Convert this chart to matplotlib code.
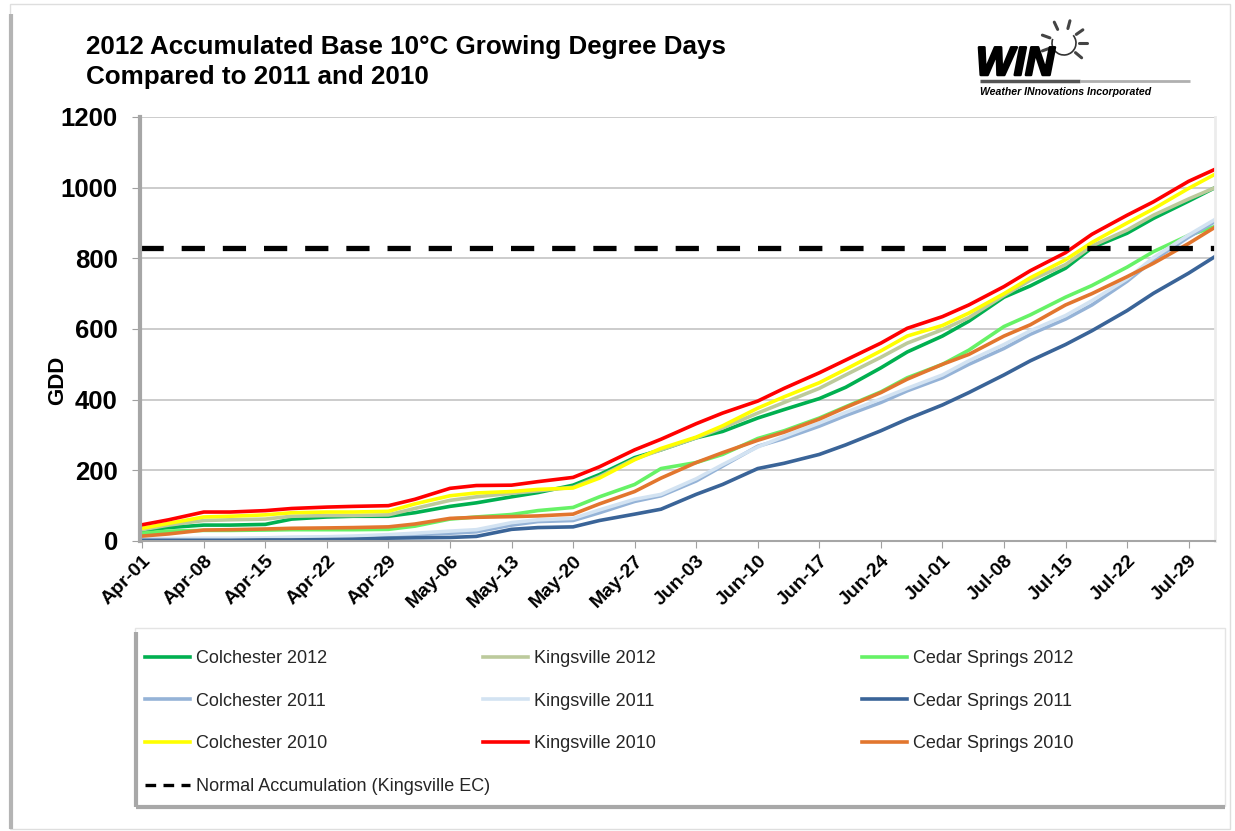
import numpy as np
import matplotlib
matplotlib.use("Agg")
import matplotlib.pyplot as plt
import matplotlib.dates as mdates
import matplotlib.patheffects as pe
from matplotlib.patches import Rectangle, Arc
from matplotlib.lines import Line2D

plt.rcParams['font.family'] = ['Liberation Sans', 'DejaVu Sans']

# days after Apr-01 (2012 season)
days = [0, 3, 7, 10, 14, 17, 21, 24, 28, 31, 35, 38, 42, 45, 49, 52, 56, 59,
        63, 66, 70, 73, 77, 80, 84, 87, 91, 94, 98, 101, 105, 108, 112, 115, 119, 122]

colchester_2012 = [30, 38, 45, 45, 47, 62, 68, 70, 70, 80, 98, 108, 125, 137, 158, 188, 236, 258,
                   292, 310, 348, 372, 403, 435, 490, 535, 580, 622, 690, 722, 772, 830, 871, 913, 962, 1000]
kingsville_2012 = [32, 45, 58, 60, 62, 70, 72, 72, 74, 92, 115, 125, 135, 142, 152, 182, 232, 258,
                   292, 320, 362, 392, 432, 470, 520, 560, 598, 632, 695, 738, 782, 835, 880, 922, 968, 1000]
cedar_springs_2012 = [22, 28, 30, 30, 31, 32, 32, 32, 33, 42, 62, 68, 75, 86, 95, 125, 160, 205,
                      222, 245, 290, 312, 348, 380, 422, 462, 500, 540, 607, 640, 690, 723, 775, 819, 865, 890]
colchester_2011 = [5, 5, 6, 6, 6, 8, 8, 9, 14, 18, 22, 26, 45, 55, 58, 80, 112, 128,
                   170, 212, 268, 290, 325, 355, 392, 425, 462, 500, 545, 585, 628, 668, 735, 795, 860, 904]
kingsville_2011 = [7, 7, 8, 8, 9, 11, 12, 14, 18, 22, 28, 32, 52, 60, 64, 88, 118, 132,
                   176, 216, 266, 296, 334, 364, 402, 432, 470, 510, 556, 595, 638, 680, 742, 802, 866, 910]
cedar_springs_2011 = [2, 2, 2, 2, 3, 3, 4, 5, 8, 9, 10, 13, 33, 38, 40, 58, 76, 90,
                      132, 160, 205, 220, 245, 272, 312, 345, 385, 420, 470, 510, 556, 595, 652, 701, 758, 805]
colchester_2010 = [36, 50, 68, 70, 74, 80, 82, 82, 84, 105, 128, 136, 140, 146, 150, 178, 230, 262,
                   294, 326, 376, 408, 448, 486, 538, 580, 610, 645, 700, 745, 796, 845, 900, 940, 998, 1038]
kingsville_2010 = [46, 60, 82, 82, 86, 92, 96, 98, 100, 118, 149, 157, 158, 168, 180, 210, 258, 288,
                   332, 362, 396, 432, 476, 512, 560, 602, 635, 668, 720, 765, 816, 868, 922, 960, 1018, 1052]
cedar_springs_2010 = [14, 20, 31, 32, 34, 36, 37, 38, 40, 48, 64, 67, 69, 71, 76, 105, 140, 178,
                      222, 250, 285, 308, 345, 378, 420, 458, 500, 528, 580, 612, 668, 700, 748, 786, 842, 888]
normal_gdd = 830

series_names = ["Colchester 2012", "Kingsville 2012", "Cedar Springs 2012",
                "Colchester 2011", "Kingsville 2011", "Cedar Springs 2011",
                "Colchester 2010", "Kingsville 2010", "Cedar Springs 2010"]
series_values = [colchester_2012, kingsville_2012, cedar_springs_2012,
                 colchester_2011, kingsville_2011, cedar_springs_2011,
                 colchester_2010, kingsville_2010, cedar_springs_2010]
series_colors = ["#00b050", "#bcca9c", "#66f266",
                 "#95b3d7", "#d3e3f2", "#3a6498",
                 "#ffff00", "#ff0000", "#e2762e"]
gdd_ticks = [0, 200, 400, 600, 800, 1000, 1200]

start = np.datetime64("2012-04-01")
dates = start + np.array(days).astype("timedelta64[D]")
tick_dates = start + np.arange(0, 120, 7).astype("timedelta64[D]")

W, H = 1235, 831
fig = plt.figure(figsize=(W / 100, H / 100), dpi=100)

# decoration layer in pixel coords
deco = fig.add_axes([0, 0, 1, 1], zorder=-1)
deco.set_xlim(0, W)
deco.set_ylim(H, 0)
deco.axis("off")
deco.add_patch(Rectangle((10, 4), 1220, 825, fc="white", ec="#dedede", lw=1))
deco.plot([11, 11], [14, 829], color="#b4b4b4", lw=3, solid_capstyle="butt")

ax = fig.add_axes([140 / W, 1 - 541 / H, (1215 - 140) / W, (541 - 117) / H])
lines = []
for name, vals, col in zip(series_names, series_values, series_colors):
    ln, = ax.plot(dates, vals, color=col, lw=2.6, label=name, solid_joinstyle="round")
    lines.append(ln)
ax.axhline(normal_gdd, color="black", lw=3.8, dashes=(4.4, 3.4), dash_capstyle="butt")

ax.set_ylim(0, 1200)
ax.set_xlim(start - np.timedelta64(6, "h"), start + np.timedelta64(122, "D"))
ax.set_yticks(gdd_ticks)
ax.set_yticklabels([str(v) for v in gdd_ticks], fontsize=18.5, fontweight="bold")
ax.set_xticks(tick_dates)
ax.xaxis.set_major_formatter(mdates.DateFormatter("%b-%d"))
for lab in ax.get_xticklabels():
    lab.set_rotation(45)
    lab.set_ha("right")
    lab.set_rotation_mode("anchor")
    lab.set_fontsize(14)
    lab.set_fontweight("bold")
ax.tick_params(axis="y", length=6, color="#a0a0a0", pad=10)
ax.tick_params(axis="x", length=5, color="#a0a0a0", pad=3)
ax.grid(axis="y", color="#c8c8c8", lw=1.3)
ax.set_axisbelow(True)
ax.spines["top"].set_visible(False)
ax.spines["right"].set_color("#ececec")
ax.spines["right"].set_linewidth(2)
ax.spines["left"].set_color("#a6a6a6")
ax.spines["left"].set_linewidth(3)
ax.spines["bottom"].set_color("#a6a6a6")
ax.spines["bottom"].set_linewidth(1.5)

# title and axis label
deco.text(86, 35, "2012 Accumulated Base 10°C Growing Degree Days\nCompared to 2011 and 2010",
          fontsize=18.7, fontweight="bold", va="top", ha="left", linespacing=1.3)
deco.text(58, 380, "GDD", rotation=90, fontsize=16, fontweight="bold", ha="center", va="center")

# logo
deco.text(976, 75, "WIN", fontsize=29, fontweight="heavy", fontstyle="italic", ha="left",
          va="baseline", path_effects=[pe.withStroke(linewidth=1.8, foreground="black")])
deco.add_patch(Arc((1064, 43), 24, 24, theta1=-40, theta2=200, color="#333333", lw=1.2))
for ang in [-40, 0, 35, 75, 115, 160, 200]:
    a = np.deg2rad(ang)
    deco.plot([1064 + 15 * np.cos(a), 1064 + 23 * np.cos(a)],
              [43 - 15 * np.sin(a), 43 - 23 * np.sin(a)], color="#444444", lw=2.2,
              solid_capstyle="round")
deco.plot([980, 1080], [81, 81], color="#555555", lw=2.5, solid_capstyle="butt")
deco.plot([1080, 1190], [81, 81], color="#b0b0b0", lw=2, solid_capstyle="butt")
deco.text(980, 95, "Weather INnovations Incorporated", fontsize=7.6, fontweight="bold",
          fontstyle="italic", ha="left", va="baseline")

# legend box
deco.add_patch(Rectangle((135, 628), 1090, 178, fc="white", ec="#e4e4e4", lw=1))
deco.plot([136, 136], [632, 807], color="#a8a8a8", lw=3, solid_capstyle="butt")
deco.plot([136, 1225], [807, 807], color="#a8a8a8", lw=3, solid_capstyle="butt")

normal_proxy = Line2D([], [], color="black", lw=2.4, dashes=(3.2, 2.2), dash_capstyle="butt")
cols = [([lines[0], lines[3], lines[6], normal_proxy],
         [series_names[0], series_names[3], series_names[6], "Normal Accumulation (Kingsville EC)"], 145),
        ([lines[1], lines[4], lines[7]], [series_names[1], series_names[4], series_names[7]], 483),
        ([lines[2], lines[5], lines[8]], [series_names[2], series_names[5], series_names[8]], 862)]
for hs, ls, xp in cols:
    fig.legend(hs, ls, loc="upper left", bbox_to_anchor=(xp / W, 1 - 650 / H),
               frameon=False, fontsize=13, borderpad=0, borderaxespad=0,
               handlelength=2.5, handletextpad=0.3, labelspacing=1.42, labelcolor="#262626")

fig.savefig("out.png", dpi=100)
